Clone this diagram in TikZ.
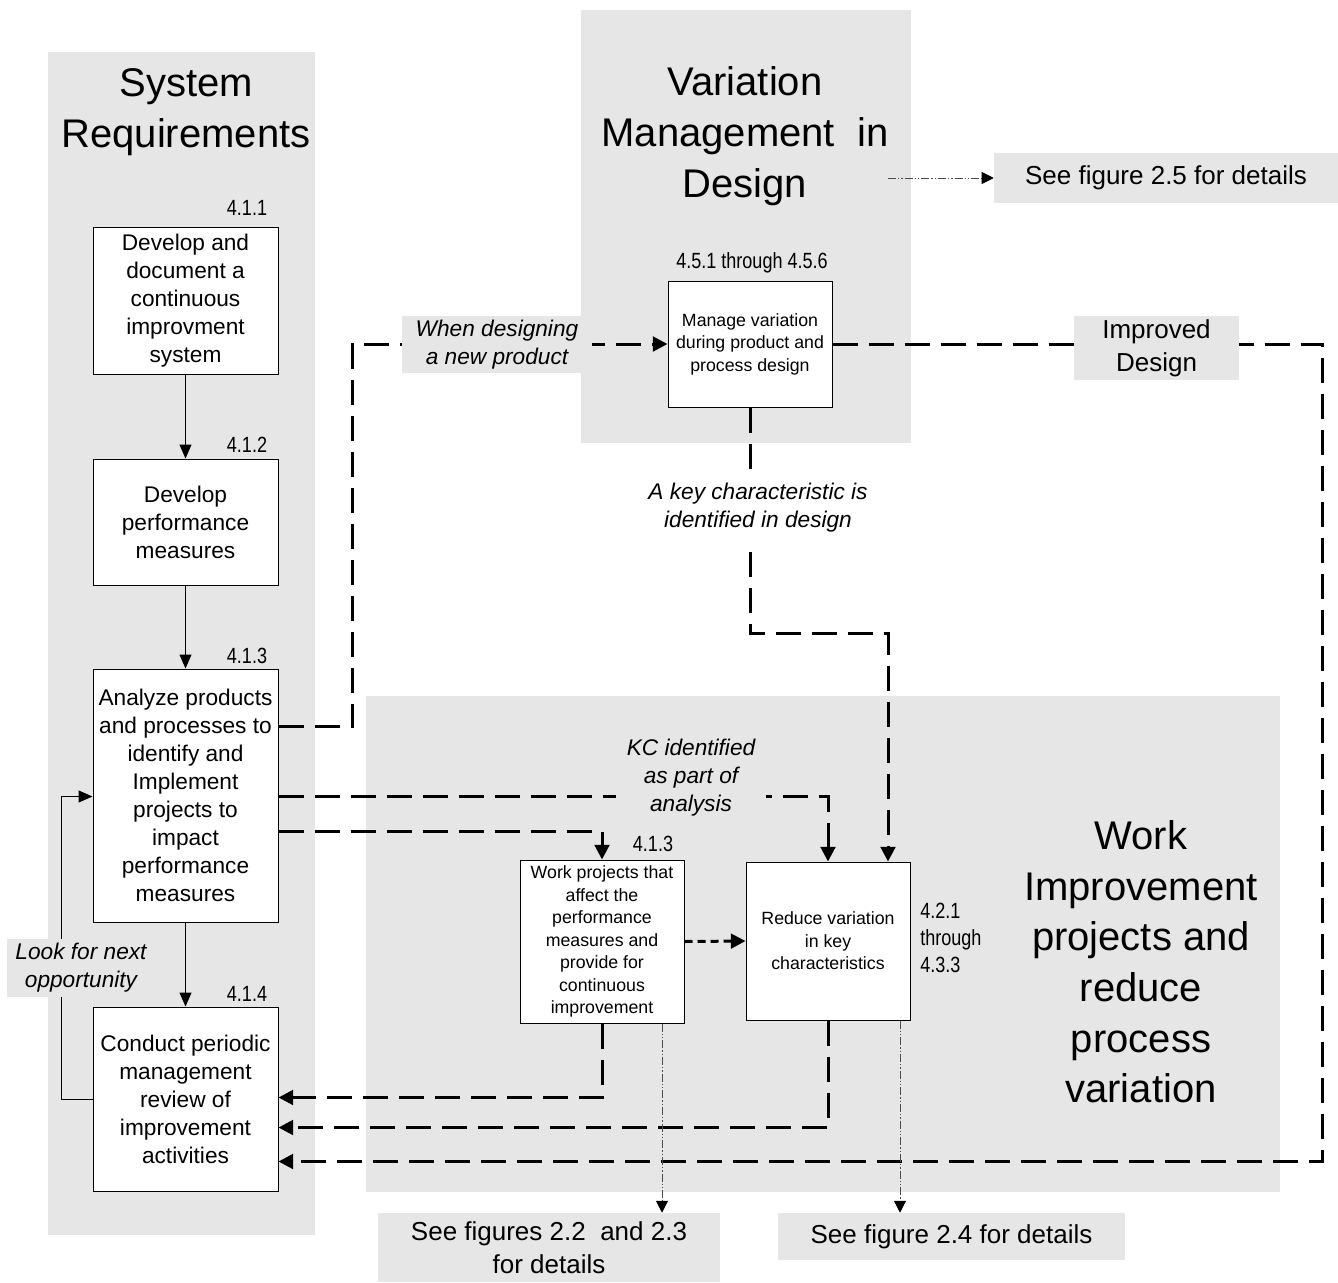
\documentclass[tikz,border=0pt]{standalone}
\usepackage{fontspec}
\setmainfont{Liberation Sans}
\newfontfamily\narrowfont[FakeStretch=0.82]{Liberation Sans}
\usetikzlibrary{arrows.meta,calc}
\definecolor{panel}{RGB}{230,230,230}

\begin{document}
\begin{tikzpicture}[x=0.75pt,y=-0.75pt,
  box/.style={draw=black, line width=0.75pt, fill=white, align=center, inner sep=0pt},
  bigbox/.style={box, minimum width=138.75pt, font=\fontsize{17}{21}\selectfont},
  smallbox/.style={box, minimum width=123pt, font=\fontsize{13.3}{16.9}\selectfont},
  title/.style={align=center, inner sep=0pt, font=\fontsize{30}{38}\selectfont},
  num/.style={align=left, inner sep=0pt, font=\narrowfont\fontsize{16.5}{20}\selectfont},
  lbl/.style={align=center, inner sep=0pt, font=\itshape\fontsize{17}{21}\selectfont},
  seebox/.style={fill=panel, align=center, inner sep=0pt, font=\fontsize{19.5}{25}\selectfont},
  flow/.style={line width=0.75pt, -{Triangle[length=10.5pt,width=9pt]}},
  dashflow/.style={line width=2.25pt, dash pattern=on 18.75pt off 8.25pt, -{Triangle[length=11pt,width=11pt]}},
  shortdash/.style={line width=2.25pt, dash pattern=on 6pt off 3.75pt, -{Triangle[length=11pt,width=11pt]}},
  refline/.style={line width=0.75pt, draw=black!70, dash pattern=on 6pt off 1.5pt on 1pt off 1.5pt on 1pt off 1.5pt, -{Triangle[length=9pt,width=9pt,color=black]}}
]
\useasboundingbox (0,0) rectangle (1338,1282);

% grey panels
\fill[panel] (48,52) rectangle (315,1235);
\fill[panel] (581,10) rectangle (911,443);
\fill[panel] (366,696) rectangle (1280,1192);

% panel titles
\node[title] (t1) at (186,112) {System\\Requirements};
\node[title] (t2) at (745,136) {Variation\\Management\ \ in\\Design};
\node[title] (t3) at (1141,962) {Work\\Improvement\\projects and\\reduce\\process\\variation};

% process boxes
\node[bigbox, minimum height=110.25pt] (b1) at (185.5,300.5) {Develop and\\document a\\continuous\\improvment\\system};
\node[bigbox, minimum height=94.5pt] (b2) at (185.5,522) {Develop\\performance\\measures};
\node[bigbox, minimum height=189.75pt] (b3) at (185.5,795.5) {Analyze products\\and processes to\\identify and\\Implement\\projects to\\impact\\performance\\measures};
\node[bigbox, minimum height=138pt] (b4) at (185.5,1099) {Conduct periodic\\management\\review of\\improvement\\activities};
\node[smallbox, minimum height=94.5pt] (m) at (750,344) {Manage variation\\during product and\\process design};
\node[smallbox, minimum height=122.25pt] (w) at (602,941.5) {Work projects that\\affect the\\performance\\measures and\\provide for\\continuous\\improvement};
\node[smallbox, minimum height=118.5pt] (r) at (828,941) {Reduce variation\\in key\\characteristics};

% section numbers
\node[num] (n1) at (247,208) {4.1.1};
\node[num] (n2) at (247,445) {4.1.2};
\node[num] (n3) at (247,656) {4.1.3};
\node[num] (n4) at (247,994) {4.1.4};
\node[num] (n5) at (752,263) {4.5.1 through 4.5.6};
\node[num] (n6) at (653,844) {4.1.3};
\node[num, anchor=west] (n7) at (920,938) {4.2.1\\through\\4.3.3};

% reference boxes
\node[seebox, minimum width=258pt, minimum height=37.5pt] (s25) at (1166,178) {See figure 2.5 for details};
\node[seebox, minimum width=256.5pt, minimum height=51.75pt] (s22) at (549,1247.5) {See figures 2.2\ \ and 2.3\\for details};
\node[seebox, minimum width=260.25pt, minimum height=35.25pt] (s24) at (951.5,1236.5) {See figure 2.4 for details};

% main flow
\draw[flow] (b1) -- (b2);
\draw[flow] (b2) -- (b3);
\draw[flow] (b3) -- (b4);
\draw[flow] (b4.west) -| ($(b3.north west)+(-31,128)$) -- ($(b3.north west)+(0,128)$);

% dashed flows
\draw[dashflow] ($(b3.north east)+(0,58)$) -| ($(m.west)+(-315,0)$) -- (m.west);
\draw[dashflow] (m.east) -| ($(b4.north east)+(1044,155)$) -- ($(b4.north east)+(0,155)$);
\draw[dashflow] (m.south) |- ($(r.north)+(60,-228)$) -- ($(r.north)+(60,0)$);
\draw[dashflow] ($(b3.north east)+(0,128)$) -| (r.north);
\draw[dashflow] ($(b3.north east)+(0,163)$) -| (w.north);
\draw[shortdash] (w.east) -- (r.west);
\draw[dashflow] (w.south) |- ($(b4.north east)+(0,91)$);
\draw[dashflow] (r.south) |- ($(b4.north east)+(0,121)$);

% pointers to other figures
\coordinate (d0) at (888,178);
\coordinate (wd) at ($(w.south)+(60,0)$);
\coordinate (rd) at ($(r.south)+(72,0)$);
\draw[refline] (d0) -- (d0 -| s25.west);
\draw[refline] (wd) -- (wd |- s22.north);
\draw[refline] (rd) -- (rd |- s24.north);

% connector labels
\node[lbl, fill=panel, minimum width=142.5pt, minimum height=42.75pt] (lw) at (497,344.5) {When designing\\a new product};
\node[seebox, minimum width=123.75pt, minimum height=48pt] (li) at (1156.5,348) {Improved\\Design};
\node[lbl, fill=panel, minimum width=111pt, minimum height=43.5pt] (ll) at (81,968) {Look for next\\opportunity};
\node[lbl, fill=panel, minimum width=112.5pt, minimum height=62pt] (lk) at (691,778) {KC identified\\as part of\\analysis};
\node[lbl, fill=white, minimum width=168pt, minimum height=51pt] (lc) at (758,508) {A key characteristic is\\identified in design};
\end{tikzpicture}
\end{document}
